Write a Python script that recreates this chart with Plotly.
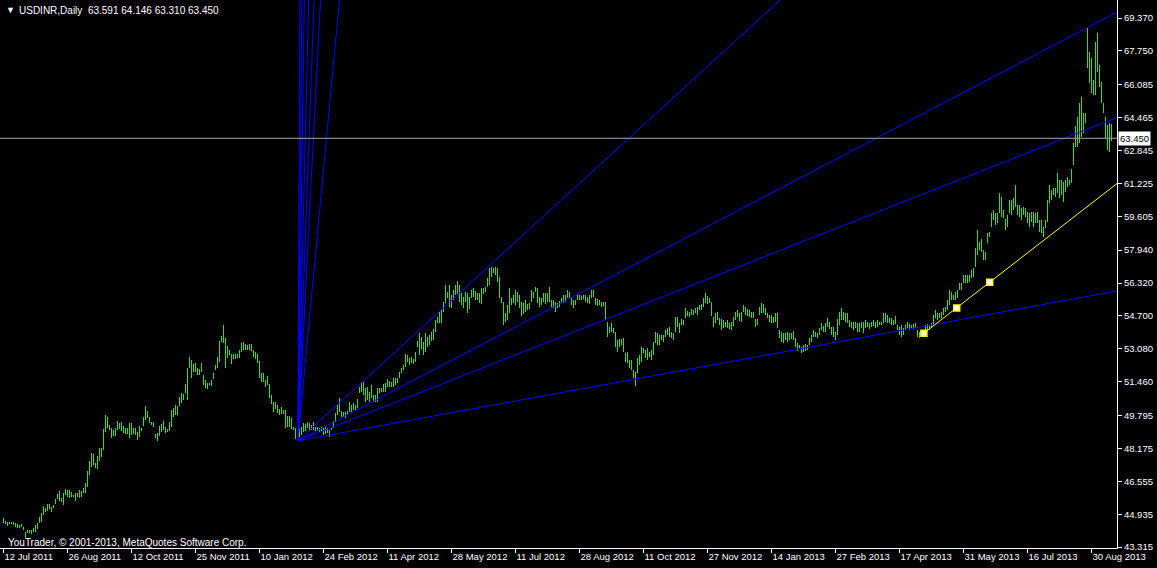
import plotly.graph_objects as go

# ---------------- data ----------------
symbol = "USDINR,Daily"
last_ohlc = [63.591, 64.146, 63.310, 63.450]   # open, high, low, close of the last bar
current_price = 63.450

# daily bars, oldest first: lows and highs
low_part1 = [44.49,44.44,44.37,44.44,44.44,44.41,44.32,44.27,44.24,44.31,
    44.16,43.78,43.99,43.99,43.96,44.04,44.08,44.21,44.49,44.57,
    44.90,45.03,45.10,45.19,45.06,45.23,45.42,45.69,45.59,45.55,
    45.39,45.88,45.80,45.72,45.80,45.77,45.60,45.77,45.75,45.80,
    45.97,45.97,46.29,46.87,47.28,47.36,47.23,47.16,47.57,47.77,
    48.10,48.97,49.17,49.09,48.71,48.81,48.81,49.09,49.13,49.04,
    48.92,48.87,48.87,48.71,48.84,48.87,48.84,48.59,48.76,49.04,
    49.30,49.58,49.66,49.41,49.33,49.25,48.67,48.54,48.81,49.00,
    49.09,48.92,48.97,49.04,49.25,49.74,49.82,49.82,50.28,50.40,
    50.56,50.89,50.56,52.12,51.63,51.96,51.96,51.79,51.79,51.96,
    51.30,51.14,51.10,51.30,51.27,51.60,52.04,52.16,52.45,53.44,
    53.35,52.12,52.62,52.78,52.35,52.57,52.57,52.62,52.65,52.94,
    53.01,53.03,53.03,53.03,52.98,52.70,52.58,52.40,51.63,51.47,
    51.47,51.22,51.30,50.65,50.35,49.99,50.12,49.91,49.82,49.87,
    49.86,49.20,49.25,49.25]
high_part1 = [44.77,44.60,44.54,44.57,44.57,44.57,44.49,44.44,44.41,44.44,
    44.32,44.08,44.16,44.16,44.16,44.24,44.41,44.49,44.82,44.98,
    45.34,45.26,45.44,45.42,45.31,45.39,45.69,45.93,46.08,45.75,
    45.97,46.18,46.13,46.13,46.05,45.88,45.97,45.97,46.13,46.08,
    46.24,46.46,47.07,47.56,47.97,47.89,47.48,47.80,48.18,48.18,
    49.12,49.82,49.73,49.33,49.20,49.09,49.17,49.53,49.41,49.50,
    49.30,49.20,49.17,49.41,49.45,49.17,49.20,48.97,49.28,49.17,
    49.74,50.27,50.02,49.74,49.50,49.46,48.89,48.92,49.28,49.38,
    49.53,49.25,49.13,49.50,50.07,50.15,50.32,50.28,50.73,50.89,
    50.86,51.35,52.12,52.68,52.53,52.32,52.40,52.12,52.09,52.40,
    51.79,51.55,51.38,51.38,51.55,51.88,52.29,52.66,53.47,53.73,
    54.26,53.63,53.22,53.03,52.81,52.81,52.81,52.81,53.03,53.35,
    53.40,53.30,53.27,53.30,53.30,53.03,52.93,52.83,52.48,51.88,
    51.88,51.55,51.75,51.35,50.81,50.45,50.45,50.32,50.10,50.22,
    50.07,50.07,49.77,49.77]
low_part2 = [49.13,49.08,48.62,48.57,48.75,48.83,49.00,49.03,49.16,49.03,
    49.08,49.08,49.00,49.03,49.00,49.03,48.83,48.87,48.92,48.75,
    49.08,49.16,49.49,49.82,49.98,49.74,49.74,49.69,49.82,49.98,
    49.98,50.06,50.06,50.15,50.89,50.97,50.80,50.48,50.56,50.48,
    50.64,50.51,50.48,50.48,50.89,50.97,50.97,50.97,51.21,51.21,
    51.21,51.21,51.30,51.38,51.66,51.87,52.04,52.20,52.45,52.28,
    52.36,52.31,52.45,53.18,52.77,53.07,52.77,52.94,53.18,53.27,
    53.46,53.51,53.92,54.33,54.33,54.33,54.91,55.32,55.57,55.15,
    55.07,55.48,55.73,55.76,55.40,55.24,55.07,55.40,54.83,55.04,
    55.57,55.65,55.48,55.48,55.32,55.27,55.76,55.89,56.14,56.22,
    56.63,56.80,56.71,56.39,55.57,55.32,54.25,54.42,54.50,54.83,
    55.24,55.32,55.24,55.40,55.07,54.71,54.78,54.91,54.99,55.04,
    55.40,55.57,55.89,55.32,55.15,55.24,55.40,55.27,55.40,55.40,
    55.15,55.07,54.88,55.07,55.15,55.32,55.32,55.40,55.57,55.57]
high_part2 = [49.65,49.24,49.19,49.00,49.16,49.24,49.41,49.36,49.49,49.41,
    49.33,49.49,49.24,49.24,49.19,49.24,49.16,49.21,49.16,49.08,
    49.24,49.52,49.90,50.31,50.67,50.02,49.98,49.98,50.03,50.48,
    50.31,50.39,50.31,50.61,51.21,51.38,51.43,51.16,51.21,50.97,
    51.30,50.80,50.80,51.16,51.13,51.16,51.33,51.38,51.59,51.49,
    51.46,51.62,51.62,51.62,51.92,52.15,52.28,52.81,52.77,52.61,
    52.69,52.58,52.91,53.46,53.84,53.68,53.40,53.84,53.68,53.76,
    53.89,54.05,54.50,54.66,54.88,54.99,55.40,56.22,55.89,56.22,
    55.73,55.98,56.22,56.42,56.22,55.81,55.65,55.89,55.81,55.65,
    55.98,56.06,55.93,55.81,55.81,56.06,56.09,56.14,56.55,57.04,
    57.13,57.08,57.13,57.04,56.63,55.65,55.40,54.83,55.24,56.06,
    55.57,55.73,55.98,55.89,55.73,55.40,55.32,55.48,55.27,55.32,
    55.98,55.89,56.14,56.06,55.65,55.57,55.81,55.81,55.81,56.14,
    55.48,55.48,55.40,55.32,55.43,55.60,55.73,55.73,55.98,55.86]
low_part3 = [55.24,55.07,55.24,55.49,55.49,55.49,55.52,55.40,55.32,55.29,
    55.57,55.65,55.24,55.19,55.24,55.16,55.19,54.50,53.68,53.84,
    53.92,53.84,53.19,52.94,53.19,53.27,52.94,52.45,52.37,52.12,
    52.04,51.63,51.25,51.87,52.28,52.45,52.86,52.61,52.53,52.69,
    52.53,52.78,53.35,53.27,53.27,53.51,53.43,53.68,53.76,53.68,
    53.60,53.51,53.92,54.17,53.88,54.25,54.25,54.58,54.70,54.66,
    54.75,54.75,54.83,54.75,54.99,54.99,55.16,55.32,55.29,55.32,
    54.70,54.17,54.34,54.50,54.25,54.01,54.09,54.17,54.09,54.04,
    54.01,54.20,54.50,54.63,54.47,54.42,54.91,54.75,54.70,54.66,
    54.58,54.58,54.17,54.25,54.75,54.83,54.83,54.75,54.58,54.42,
    54.34,54.34,54.42,54.09,53.60,53.43,53.35,53.51,53.43,53.51,
    53.55,53.51,53.19,52.99,53.10,52.86,52.94,52.99,53.02,53.27,
    53.43,53.68,53.68,53.60,53.76,54.01,53.92,53.92,54.17,54.04,
    53.76,53.68,53.51,53.76,54.25,54.50,54.50,54.42,54.34,54.17]
high_part3 = [55.62,55.49,55.49,55.78,55.73,55.68,55.73,55.73,55.65,55.73,
    55.98,55.98,55.57,55.52,55.49,55.40,55.40,55.40,54.42,54.17,
    54.34,54.09,53.92,53.51,53.55,53.55,53.60,52.86,52.94,52.53,
    52.53,52.04,51.95,52.61,52.78,53.19,53.10,53.02,53.10,52.94,
    53.02,53.43,53.92,53.84,53.76,53.76,53.76,54.01,54.09,54.17,
    53.92,53.84,54.63,54.66,54.34,54.53,54.50,55.07,54.96,54.91,
    55.03,54.99,55.07,55.12,55.24,55.29,55.57,55.81,55.68,55.57,
    55.40,54.66,54.83,54.89,54.58,54.53,54.50,54.42,54.50,54.34,
    54.42,54.66,54.91,54.99,54.83,54.91,55.24,55.16,55.03,54.99,
    54.91,54.91,54.53,54.53,55.16,55.32,55.29,55.07,54.83,54.75,
    54.75,54.66,54.83,54.83,54.01,53.92,53.84,53.84,53.92,53.84,
    53.88,53.97,53.60,53.35,53.27,53.19,53.27,53.32,53.27,53.60,
    53.76,54.01,53.92,53.88,54.09,54.34,54.20,54.34,54.58,54.42,
    54.17,54.17,53.92,54.53,54.91,55.07,54.91,54.83,54.83,54.50]
low_part4 = [54.09,54.00,54.09,53.92,53.92,54.09,53.84,54.09,54.17,54.04,
    54.17,54.20,54.09,54.17,54.25,54.25,54.33,54.42,54.33,54.33,
    54.25,54.25,54.30,54.00,53.76,53.68,53.76,54.00,54.09,54.00,
    54.09,54.04,54.09,53.68,53.59,53.68,53.76,53.84,54.00,54.00,
    54.09,54.25,54.58,54.50,54.58,54.58,54.74,54.91,54.99,55.24,
    55.48,55.48,55.48,55.57,55.97,55.97,56.30,56.30,56.30,56.39,
    56.55,56.63,57.12,57.70,57.95,57.86,57.45,57.45,58.28,58.60,
    59.09,59.42,59.18,59.26,59.75,59.59,59.50,58.93,59.09,59.75,
    59.67,59.92,60.08,59.67,59.59,59.42,59.67,59.59,59.26,59.09,
    59.34,59.09,59.26,59.26,58.85,58.77,58.57,59.01,59.34,60.24,
    60.41,60.65,60.57,60.74,60.49,60.65,60.33,60.82,61.07,61.15,
    61.23,62.13,63.04,63.04,63.20,63.53,63.69,64.19,66.89,66.16,
    65.66,65.58,65.58,66.73,65.99,65.17,64.68,63.45,62.87,62.79,63.31]
high_part4 = [54.42,54.42,54.42,54.33,54.33,54.42,54.42,54.50,54.42,54.37,
    54.42,54.50,54.42,54.50,54.42,54.42,54.83,54.83,54.74,54.61,
    54.58,54.50,54.69,54.25,54.17,54.25,54.09,54.25,54.38,54.30,
    54.25,54.30,54.33,54.00,53.92,54.00,54.00,54.25,54.30,54.25,
    54.33,54.74,54.99,54.83,54.83,54.91,55.07,55.15,55.48,55.97,
    55.89,55.73,55.89,55.97,56.30,56.34,56.71,56.71,56.71,56.71,
    56.96,57.04,58.03,58.93,58.36,58.49,57.95,57.86,58.77,58.85,
    59.78,59.92,59.75,59.75,60.74,60.57,59.92,59.47,59.67,60.41,
    60.41,60.49,61.15,60.16,60.16,60.00,60.08,60.00,59.83,59.75,
    59.83,59.83,59.78,59.83,59.42,59.42,59.09,59.42,60.41,61.15,
    60.90,60.98,60.98,61.72,61.39,61.39,61.31,61.39,61.56,61.39,
    61.92,63.20,64.05,64.51,65.17,65.50,64.68,64.68,68.86,67.72,
    67.39,66.32,68.21,68.62,67.06,66.24,65.17,64.51,64.10,64.19,64.146]

bar_low = low_part1 + low_part2 + low_part3 + low_part4
bar_high = high_part1 + high_part2 + high_part3 + high_part4
if len(bar_low) != len(bar_high):
    raise ValueError(f"length mismatch {len(bar_low)} {len(bar_high)}")

# date labels of the time axis and the bar number each one sits on
date_labels = ["12 Jul 2011", "26 Aug 2011", "12 Oct 2011", "25 Nov 2011", "10 Jan 2012",
               "24 Feb 2012", "11 Apr 2012", "28 May 2012", "11 Jul 2012", "28 Aug 2012",
               "11 Oct 2012", "27 Nov 2012", "14 Jan 2013", "27 Feb 2013", "17 Apr 2013",
               "31 May 2013", "16 Jul 2013", "30 Aug 2013"]
date_label_bars = [0, 32, 64, 96, 128, 160, 192, 224, 256, 288,
                   320, 352, 384, 416, 448, 480, 512, 544]

price_ticks = [69.370, 67.750, 66.085, 64.465, 62.845, 61.225, 59.605, 57.940, 56.320,
               54.700, 53.080, 51.460, 49.795, 48.175, 46.555, 44.935, 43.315]

# drawn objects: a fan of rays (bar number, price) from one anchor
fan_anchor = (147.2, 48.55)
fan_ends = [(556.75, 55.93), (556.75, 64.47), (556.75, 69.66), (388.3, 70.26),
            (148.2, 70.26), (149.2, 70.26), (150.4, 70.26), (152.6, 70.26),
            (155.3, 70.26), (158.5, 70.26), (168.0, 70.26)]
# yellow trend ray: its anchor, its end at the right edge, and its three handles
trend_ray = [(460.2, 53.85), (556.75, 61.22)]
trend_handles_bar = [460.2, 476.6, 493.1]
trend_handles_price = [53.85, 55.09, 56.36]

# ---------------- styles ----------------
BAR_COLOR = "#2fe02f"
FAN_COLOR = "#0000ff"
TREND_COLOR = "#ffff00"
FONT = "Liberation Sans, Arial, sans-serif"

fig = go.Figure()
bar_index = list(range(len(bar_low)))
fig.add_trace(go.Bar(
    x=bar_index, base=bar_low, y=[h - l for h, l in zip(bar_high, bar_low)],
    width=0.5, marker=dict(color=BAR_COLOR, opacity=0.995, line=dict(width=0)),
    hoverinfo="skip"))

for end in fan_ends:
    fig.add_trace(go.Scatter(x=[fan_anchor[0], end[0]], y=[fan_anchor[1], end[1]],
                             mode="lines", line=dict(color=FAN_COLOR, width=1),
                             hoverinfo="skip"))

fig.add_trace(go.Scatter(x=[p[0] for p in trend_ray], y=[p[1] for p in trend_ray],
                         mode="lines", line=dict(color=TREND_COLOR, width=1), hoverinfo="skip"))
fig.add_trace(go.Scatter(x=trend_handles_bar, y=trend_handles_price, mode="markers",
                         marker=dict(symbol="square", size=6, color="white",
                                     line=dict(color=TREND_COLOR, width=1.5)),
                         hoverinfo="skip"))

fig.add_shape(type="line", xref="paper", x0=0, x1=1, yref="y", y0=current_price, y1=current_price,
              line=dict(color="#a8a8a8", width=1))

fig.update_layout(
    width=1157, height=568,
    margin=dict(l=0, r=40, t=0, b=20),
    paper_bgcolor="black", plot_bgcolor="black",
    showlegend=False, bargap=0, bargroupgap=0,
    font=dict(family=FONT, color="white", size=10),
    xaxis=dict(range=[-1.75, 556.75], tickvals=date_label_bars, ticktext=date_labels,
               showgrid=False, zeroline=False, showline=True, linecolor="white", linewidth=1,
               ticks="outside", ticklen=4, tickcolor="white", tickwidth=1,
               ticklabelposition="outside right",
               tickfont=dict(family=FONT, size=9.5, color="white"), fixedrange=True),
    yaxis=dict(range=[43.27, 70.26], side="right", tickvals=price_ticks,
               ticktext=[f"{v:.3f}" for v in price_ticks],
               showgrid=False, zeroline=False, showline=True, linecolor="white", linewidth=1,
               ticks="outside", ticklen=4, tickcolor="white", tickwidth=1,
               tickfont=dict(family=FONT, size=9.5, color="white"), fixedrange=True),
)

# header, copyright and the current price label
header_text = symbol + "\u00a0\u00a0" + " ".join(f"{v:.3f}" for v in last_ohlc)
fig.add_annotation(xref="paper", yref="paper", x=4 / 1117, y=1 - 10 / 548, text="\u25bc",
                   showarrow=False, xanchor="left", yanchor="middle",
                   font=dict(family=FONT, size=9, color="white"))
fig.add_annotation(xref="paper", yref="paper", x=17 / 1117, y=1 - 10 / 548, text=header_text,
                   showarrow=False, xanchor="left", yanchor="middle",
                   font=dict(family=FONT, size=10, color="white"))
fig.add_annotation(xref="paper", yref="paper", x=6 / 1117, y=6 / 548,
                   text="YouTrader, \u00a9 2001-2013, MetaQuotes Software Corp.",
                   showarrow=False, xanchor="left", yanchor="middle",
                   font=dict(family=FONT, size=10, color="white"))
fig.add_annotation(xref="paper", yref="y", x=1, y=current_price, text=f"{current_price:.3f}",
                   showarrow=False, xanchor="left", yanchor="middle", xshift=1,
                   bgcolor="white", borderpad=1,
                   font=dict(family=FONT, size=9.5, color="black"))

fig.write_html("out.html", config={"displayModeBar": False},
               post_script="document.body.style.margin='0';document.body.style.padding='0';")
